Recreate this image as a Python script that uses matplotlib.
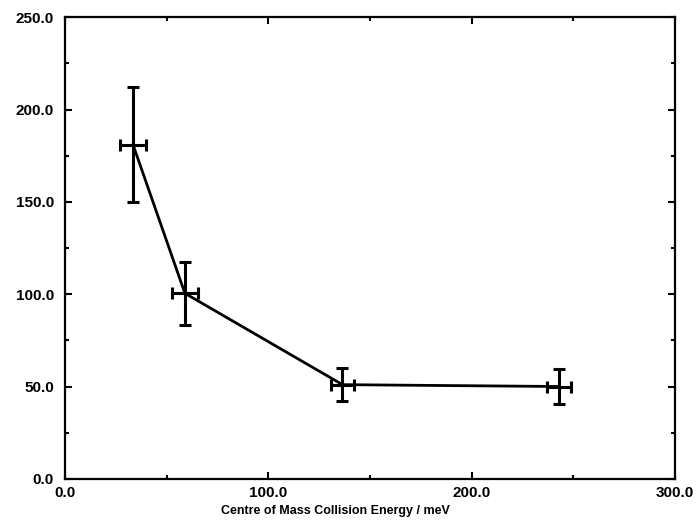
import numpy as np
import matplotlib
matplotlib.use('Agg')
import matplotlib.pyplot as plt
from matplotlib.ticker import MultipleLocator, FormatStrFormatter

# collision energy (meV) and measured value with error bars
energy = [33.5, 59.0, 136.5, 243.0]
energy_err = [6.2, 6.4, 5.7, 6.0]
value = [181.0, 100.5, 51.0, 50.0]
value_err = [31.0, 17.0, 9.0, 9.5]

xlabel = 'Centre of Mass Collision Energy / meV'

plt.rcParams['font.family'] = ['Liberation Sans', 'DejaVu Sans']
plt.rcParams['font.weight'] = 'bold'

fig = plt.figure(figsize=(6.98, 5.25), dpi=100)
ax = fig.add_axes([0.093, 0.088, 0.874, 0.879])

ax.errorbar(energy, value, xerr=energy_err, yerr=value_err, color='black',
            linewidth=2.0, elinewidth=2.2, capsize=4, capthick=2.2)

ax.set_xlim(0, 300)
ax.set_ylim(0, 250)

ax.xaxis.set_major_locator(MultipleLocator(100))
ax.xaxis.set_minor_locator(MultipleLocator(50))
ax.yaxis.set_major_locator(MultipleLocator(50))
ax.yaxis.set_minor_locator(MultipleLocator(25))
ax.xaxis.set_major_formatter(FormatStrFormatter('%.1f'))
ax.yaxis.set_major_formatter(FormatStrFormatter('%.1f'))

ax.tick_params(which='both', direction='in', top=True, right=True,
               width=1.5, labelsize=11)
ax.tick_params(which='major', length=5)
ax.tick_params(which='minor', length=3)
ax.tick_params(axis='y', pad=8)
ax.tick_params(axis='x', pad=5)
for lbl in ax.get_xticklabels() + ax.get_yticklabels():
    lbl.set_fontweight('bold')

for sp in ax.spines.values():
    sp.set_linewidth(1.6)

ax.set_xlabel(xlabel, fontsize=9, fontweight='bold', labelpad=1)
ax.xaxis.set_label_coords(0.444, -0.057)

fig.savefig('out.png', dpi=100)
